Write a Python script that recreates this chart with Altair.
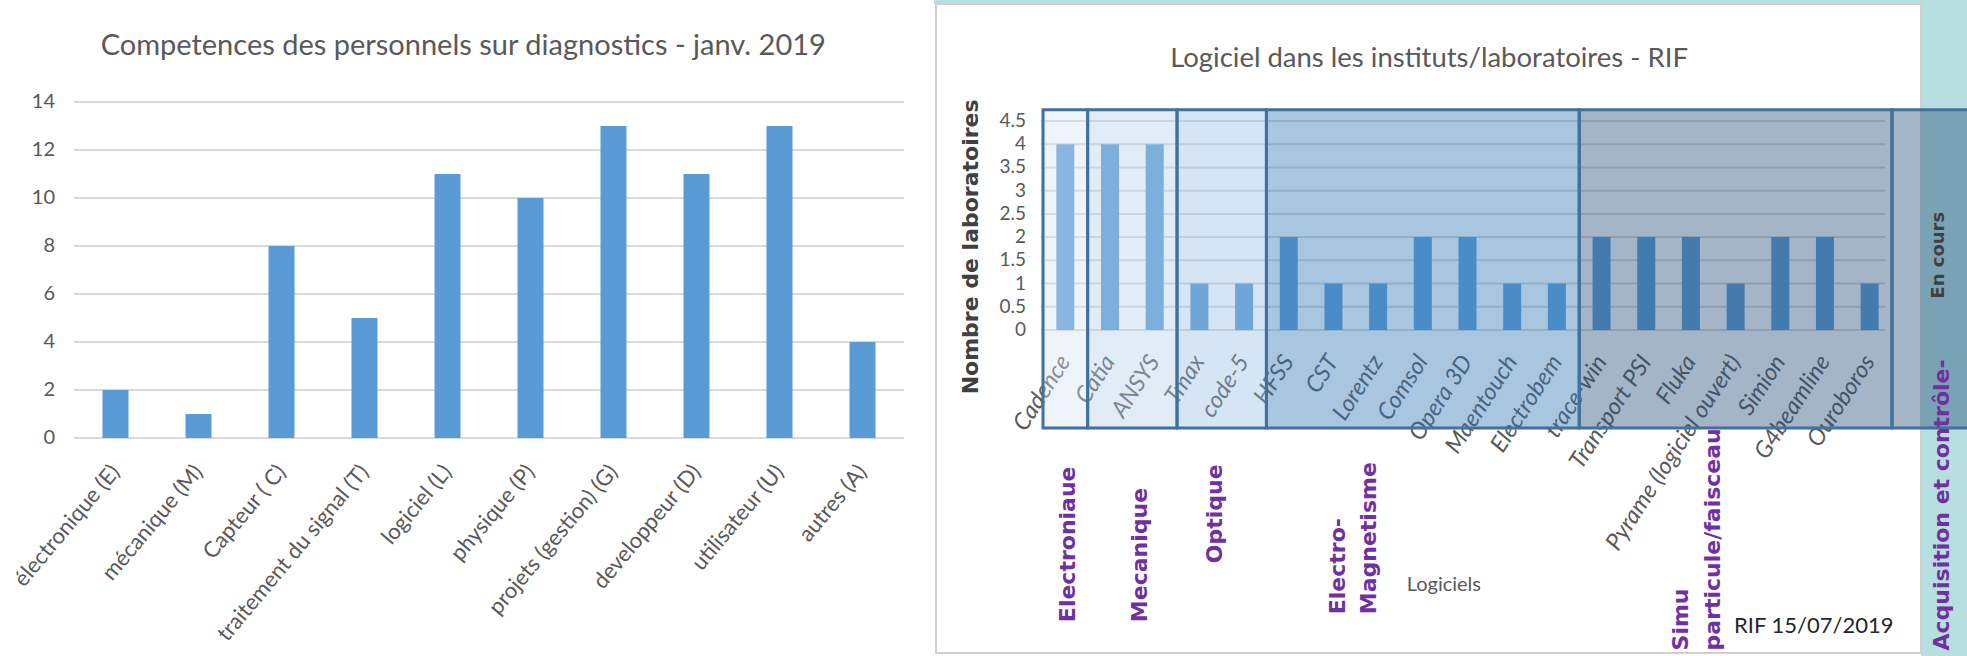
import altair as alt
import pandas as pd

# ---------------- data ----------------
comp_categories = ["électronique (E)", "mécanique (M)", "Capteur ( C)", "traitement du signal (T)",
                   "logiciel (L)", "physique (P)", "projets (gestion) (G)", "developpeur (D)",
                   "utilisateur (U)", "autres (A)"]
comp_values = [2, 1, 8, 5, 11, 10, 13, 11, 13, 4]
comp_ticks = [0, 2, 4, 6, 8, 10, 12, 14]

soft_categories = ["Cadence", "Catia", "ANSYS", "Tmax", "code-5", "HFSS", "CST", "Lorentz", "Comsol",
                   "Opera 3D", "Maentouch", "Electrobem", "trace-win", "Transport PSI", "Fluka",
                   "Pyrame (logiciel ouvert)", "Simion", "G4beamline", "Ouroboros"]
soft_values = [4, 4, 4, 1, 1, 2, 1, 1, 2, 2, 1, 1, 2, 2, 2, 1, 2, 2, 1]
soft_ticks = [0, 0.5, 1, 1.5, 2, 2.5, 3, 3.5, 4, 4.5]

group_names = ["Electronique", "Mecanique", "Optique", "Electro-Magnetisme",
               "Simu particule/faisceau", "Acquisition et contrôle"]
group_first = [0, 1, 3, 5, 12, 19]
group_last = [0, 2, 4, 11, 18, 20]

left_title = "Competences des personnels sur diagnostics - janv. 2019"
right_title = "Logiciel dans les instituts/laboratoires - RIF"
right_y_title = "Nombre de laboratoires"
right_x_title = "Logiciels"
group_label_lines = ["Electroniaue", "Mecanique", "Optique", "Electro-", "Magnetisme",
                     "Simu", "particule/faisceau", "Acquisition et contrôle-"]
status_text = "En cours"
stamp_text = "RIF 15/07/2019"

# ---------------- style / layout ----------------
W, H = 1967, 656
BAR = "#5b9bd5"
GRID = "#d9d9d9"
TXT = "#595959"
PURPLE = "#7030a0"
BOX_STROKE = "#41719c"
TEAL = "#b8dfe0"
box_fill = ["#d5e3f2", "#b4cee9", "#91b9df", "#3378b8", "#234e7a", "#234e7a"]
box_alpha = [0.38, 0.39, 0.37, 0.42, 0.42, 0.42]

# pixel ranges of the two plots inside the 1967x656 slide
L_X = [69, 909]
L_Y = [438, 102]
R_X = [1038, 1897]
R_Y = [330, 121]

# annotation anchors (category-index units / value units of the right panel)
label_x = [0.07, 1.68, 3.36, 6.1, 6.8, 13.78, 14.49, 19.63]
label_y = [-6.29, -6.29, -5.02, -6.12, -6.12, -6.9, -6.9, -6.9]

# ---------------- left chart ----------------
df_comp = pd.DataFrame({"idx": list(range(len(comp_categories))), "cat": comp_categories, "val": comp_values})
df_lticks = pd.DataFrame({"t": comp_ticks, "lab": [f"{t:g}" for t in comp_ticks]})
xL = alt.Scale(domain=[-0.5, len(comp_categories) - 0.5], range=L_X, nice=False, zero=False)
yL = alt.Scale(domain=[0, 14], range=L_Y, nice=False, zero=False)

left_grid = alt.Chart(df_lticks).mark_rule(color=GRID, strokeWidth=2).encode(
    x=alt.XDatum(datum=-0.5, type="quantitative", scale=xL, axis=None),
    x2=alt.datum(len(comp_categories) - 0.5),
    y=alt.Y("t:Q", scale=yL, axis=None),
)
left_bars = alt.Chart(df_comp).mark_bar(color=BAR, size=26).encode(
    x=alt.X("idx:Q", scale=xL, axis=None),
    y=alt.Y("val:Q", scale=yL, axis=None),
)
left_ylabels = alt.Chart(df_lticks).mark_text(
    align="right", baseline="middle", dx=-19, fontSize=20, color=TXT).encode(
    x=alt.XDatum(datum=-0.5, type="quantitative", axis=None),
    y=alt.Y("t:Q", axis=None), text="lab:N")
left_xlabels = alt.Chart(df_comp).mark_text(
    angle=310, align="right", baseline="middle", fontSize=22, color=TXT).encode(
    x=alt.X("idx:Q", axis=None),
    y=alt.YDatum(datum=-1.25, type="quantitative", axis=None), text="cat:N")
left_title_mark = alt.Chart(pd.DataFrame({"t": [left_title]})).mark_text(
    fontSize=29, color=TXT, align="center", baseline="middle").encode(
    x=alt.XDatum(datum=4.19, type="quantitative", axis=None),
    y=alt.YDatum(datum=16.33, type="quantitative", axis=None),
    text="t:N",
)

left = alt.layer(left_grid, left_bars, left_ylabels, left_xlabels, left_title_mark)

# ---------------- right chart ----------------
df_soft = pd.DataFrame({"idx": list(range(len(soft_categories))), "cat": soft_categories, "val": soft_values})
df_rticks = pd.DataFrame({"t": soft_ticks, "lab": [f"{t:g}" for t in soft_ticks]})
xR = alt.Scale(domain=[-0.5, len(soft_categories) - 0.5], range=R_X, nice=False, zero=False)
yR = alt.Scale(domain=[0, 4.5], range=R_Y, nice=False, zero=False)

df_groups = pd.DataFrame({
    "grp": group_names,
    "lo": [f - 0.5 for f in group_first],
    "hi": [l + 0.5 for l in group_last],
    "alpha": box_alpha,
})

right_grid = alt.Chart(df_rticks).mark_rule(color=GRID, strokeWidth=2).encode(
    x=alt.XDatum(datum=-0.55, type="quantitative", scale=xR, axis=None),
    x2=alt.datum(18.35),
    y=alt.Y("t:Q", scale=yR, axis=None),
)
right_bars = alt.Chart(df_soft).mark_bar(color=BAR, size=18).encode(
    x=alt.X("idx:Q", scale=xR, axis=None),
    y=alt.Y("val:Q", scale=yR, axis=None),
)
right_xlabels = alt.Chart(df_soft).mark_text(
    angle=303, align="right", baseline="middle", fontSize=23.5, fontStyle="italic", color=TXT).encode(
    x=alt.X("idx:Q", axis=None),
    y=alt.YDatum(datum=-0.6, type="quantitative", axis=None), text="cat:N")
right_ylabels = alt.Chart(df_rticks).mark_text(
    align="right", baseline="middle", dx=-17, fontSize=19, color=TXT).encode(
    x=alt.XDatum(datum=-0.5, type="quantitative", axis=None),
    y=alt.Y("t:Q", axis=None), text="lab:N")
right_ytitle = alt.Chart(pd.DataFrame({"t": [right_y_title]})).mark_text(
    angle=270, align="center", baseline="middle", font="DejaVu Sans", fontWeight="bold",
    fontSize=22, color="#404040").encode(
    x=alt.XDatum(datum=-2.12, type="quantitative", axis=None),
    y=alt.YDatum(datum=1.79, type="quantitative", axis=None), text="t:N")
right_xtitle = alt.Chart(pd.DataFrame({"t": [right_x_title]})).mark_text(
    align="center", baseline="middle", fontSize=20, color=TXT).encode(
    x=alt.XDatum(datum=8.47, type="quantitative", axis=None),
    y=alt.YDatum(datum=-5.49, type="quantitative", axis=None), text="t:N")

right_boxes = alt.Chart(df_groups).mark_rect(stroke=BOX_STROKE, strokeWidth=3).encode(
    x=alt.X("lo:Q", axis=None),
    x2="hi:Q",
    y=alt.YDatum(datum=4.74, type="quantitative", axis=None),
    y2=alt.datum(-2.11),
    color=alt.Color("grp:N", scale=alt.Scale(domain=group_names, range=box_fill), legend=None),
    fillOpacity=alt.FillOpacity("alpha:Q", scale=None, legend=None),
)

df_labels = pd.DataFrame({"t": group_label_lines, "gx": label_x, "gy": label_y})
right_group_labels = alt.Chart(df_labels).mark_text(
    angle=270, align="left", baseline="middle", font="DejaVu Sans", fontWeight="bold",
    fontSize=22, color=PURPLE).encode(
    x=alt.X("gx:Q", axis=None), y=alt.Y("gy:Q", axis=None), text="t:N")

status_mark = alt.Chart(pd.DataFrame({"t": [status_text]})).mark_text(
    angle=270, align="center", baseline="middle", font="DejaVu Sans", fontWeight="bold",
    fontSize=18, color="#404040").encode(
    x=alt.XDatum(datum=19.55, type="quantitative", axis=None),
    y=alt.YDatum(datum=1.61, type="quantitative", axis=None), text="t:N")

stamp_mark = alt.Chart(pd.DataFrame({"t": [stamp_text]})).mark_text(
    align="center", baseline="middle", fontSize=22, color="#262626").encode(
    x=alt.XDatum(datum=16.75, type="quantitative", axis=None),
    y=alt.YDatum(datum=-6.37, type="quantitative", axis=None), text="t:N")

right_title_mark = alt.Chart(pd.DataFrame({"t": [right_title]})).mark_text(
    fontSize=27.5, color=TXT, align="center", baseline="middle").encode(
    x=alt.XDatum(datum=8.14, type="quantitative", axis=None),
    y=alt.YDatum(datum=5.84, type="quantitative", axis=None), text="t:N")

right = alt.layer(right_grid, right_bars, right_xlabels, right_ylabels, right_ytitle, right_xtitle,
                  right_boxes, right_group_labels, status_mark, stamp_mark, right_title_mark)

# ---------------- slide decorations ----------------
one = pd.DataFrame({"a": [0]})
deco_band = alt.Chart(one).mark_rect(color=TEAL).encode(
    x=alt.value(934), x2=alt.value(W), y=alt.value(0), y2=alt.value(4))
deco_strip = alt.Chart(one).mark_rect(color=TEAL).encode(
    x=alt.value(1921), x2=alt.value(W), y=alt.value(0), y2=alt.value(H))
deco_border = alt.Chart(one).mark_rect(fill="white", fillOpacity=0, stroke="#d0d0d0", strokeWidth=2).encode(
    x=alt.value(936), x2=alt.value(1921), y=alt.value(4), y2=alt.value(653))

chart = alt.layer(deco_band, deco_strip, deco_border, left, right).resolve_scale(
    x="independent", y="independent", color="independent"
).properties(
    width=W, height=H, autosize=alt.AutoSizeParams(type="none"), padding=0, background="white"
).configure(font="Lato").configure_view(stroke=None)

chart.save("out.html", embed_options={"renderer": "svg", "actions": False})
